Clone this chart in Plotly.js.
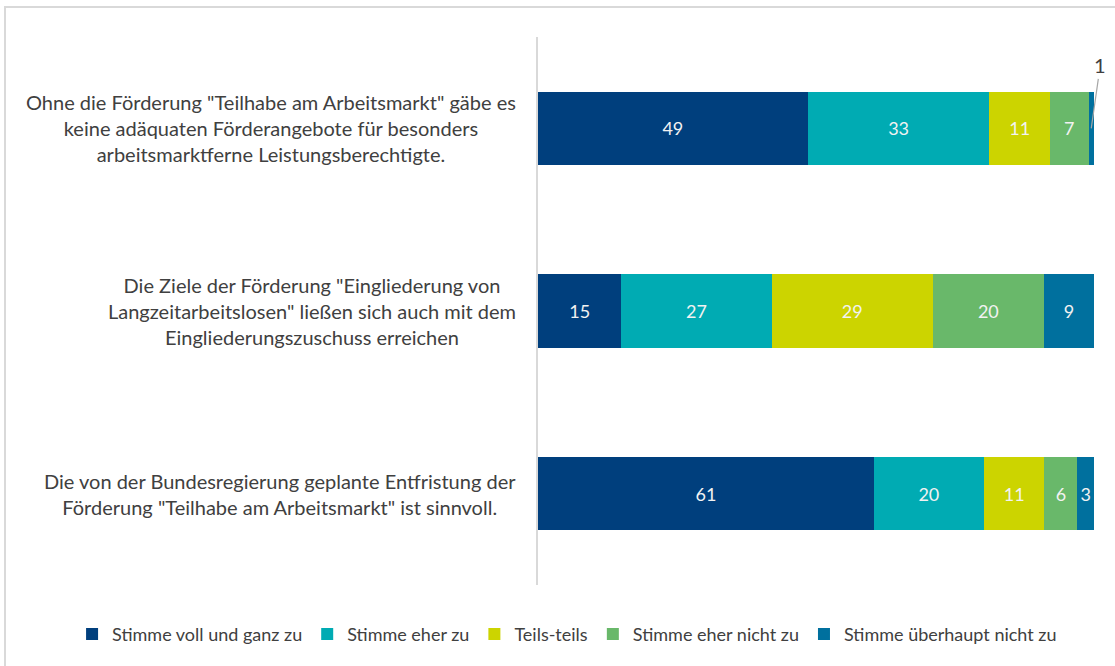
<!DOCTYPE html>
<html>
<head>
<meta charset="utf-8">
<script src="https://cdn.plot.ly/plotly-3.0.1.min.js"></script>
<style>
  html, body { margin: 0; padding: 0; background: #ffffff; }
  #wrap { position: relative; width: 1115px; height: 666px; overflow: hidden; }
  #chart { position: absolute; left: 0; top: 0; width: 1115px; height: 666px; }
  #frame { position: absolute; left: 4px; top: 6px; width: 1120px; height: 700px;
           border-left: 2px solid #d9d9d9; border-top: 2px solid #d9d9d9; pointer-events: none; }
</style>
</head>
<body>
<div id="wrap">
  <div id="chart"></div>
  <div id="frame"></div>
</div>
<script>
// ---- data ----
const categories = [
  'Ohne die Förderung "Teilhabe am Arbeitsmarkt" gäbe es<br>keine adäquaten Förderangebote für besonders<br>arbeitsmarktferne Leistungsberechtigte.',
  'Die Ziele der Förderung "Eingliederung von<br>Langzeitarbeitslosen" ließen sich auch mit dem<br>Eingliederungszuschuss erreichen',
  'Die von der Bundesregierung geplante Entfristung der<br>Förderung "Teilhabe am Arbeitsmarkt" ist sinnvoll.'
];
const seriesNames = [
  'Stimme voll und ganz zu',
  'Stimme eher zu',
  'Teils-teils',
  'Stimme eher nicht zu',
  'Stimme überhaupt nicht zu'
];
const vollUndGanz   = [49, 15, 61];
const eherZu        = [33, 27, 20];
const teilsTeils    = [11, 29, 11];
const eherNichtZu   = [7, 20, 6];
const ueberhauptNicht = [1, 9, 3];
const seriesColors = ['#003F7D', '#00ABB3', '#CCD400', '#69B86A', '#00709E'];

const seriesValues = [vollUndGanz, eherZu, teilsTeils, eherNichtZu, ueberhauptNicht];
const minInside = 2;

const traces = seriesValues.map((vals, i) => ({
  type: 'bar',
  orientation: 'h',
  name: seriesNames[i],
  y: categories,
  x: vals,
  text: vals.map(v => v >= minInside ? String(v) : ''),
  textposition: 'inside',
  insidetextanchor: 'middle',
  textangle: 0,
  textfont: { family: 'Lato, sans-serif', size: 18, color: '#f2f2f2' },
  marker: { color: seriesColors[i], line: { width: 0 } },
  hoverinfo: 'none'
}));

// category labels as centered text blocks
const annotations = categories.map(c => ({
  xref: 'paper', yref: 'y',
  x: -0.036, y: c,
  xanchor: 'right', yanchor: 'middle',
  align: 'center',
  text: c,
  showarrow: false,
  font: { family: 'Lato, sans-serif', size: 20, color: '#404040' }
}));

// small values labelled outside with a leader line
categories.forEach((c, ci) => {
  const total = seriesValues.reduce((s, arr) => s + arr[ci], 0);
  let cum = 0;
  seriesValues.forEach((arr, si) => {
    const v = arr[ci];
    if (v < minInside) {
      annotations.push({
        xref: 'x', yref: 'y',
        x: (cum + v / 2) / total * 100, y: c,
        text: String(v),
        showarrow: true, arrowhead: 0, arrowwidth: 1.2, arrowcolor: '#a6a6a6',
        ax: 9, ay: -63, standoff: 0,
        font: { family: 'Lato, sans-serif', size: 20, color: '#404040' }
      });
    }
    cum += v;
  });
});

const layout = {
  width: 1115, height: 666,
  margin: { l: 538, r: 21, t: 37, b: 81 },
  barmode: 'stack',
  barnorm: 'percent',
  bargap: 0.6,
  paper_bgcolor: '#ffffff',
  plot_bgcolor: '#ffffff',
  showlegend: true,
  hovermode: false,
  xaxis: {
    range: [0, 100],
    showgrid: false, zeroline: false, showline: false,
    showticklabels: false, ticks: ''
  },
  yaxis: {
    autorange: 'reversed',
    showgrid: false, zeroline: false,
    showline: true, linecolor: '#d9d9d9', linewidth: 2,
    showticklabels: false, ticks: ''
  },
  legend: {
    orientation: 'h',
    xref: 'paper', yref: 'paper',
    x: -0.838, xanchor: 'left',
    y: -0.09, yanchor: 'middle',
    font: { family: 'Lato, sans-serif', size: 18, color: '#404040' },
    itemwidth: 30,
    traceorder: 'normal'
  },
  annotations: annotations
};

Plotly.newPlot('chart', traces, layout, { displayModeBar: false, staticPlot: true });
</script>
</body>
</html>
